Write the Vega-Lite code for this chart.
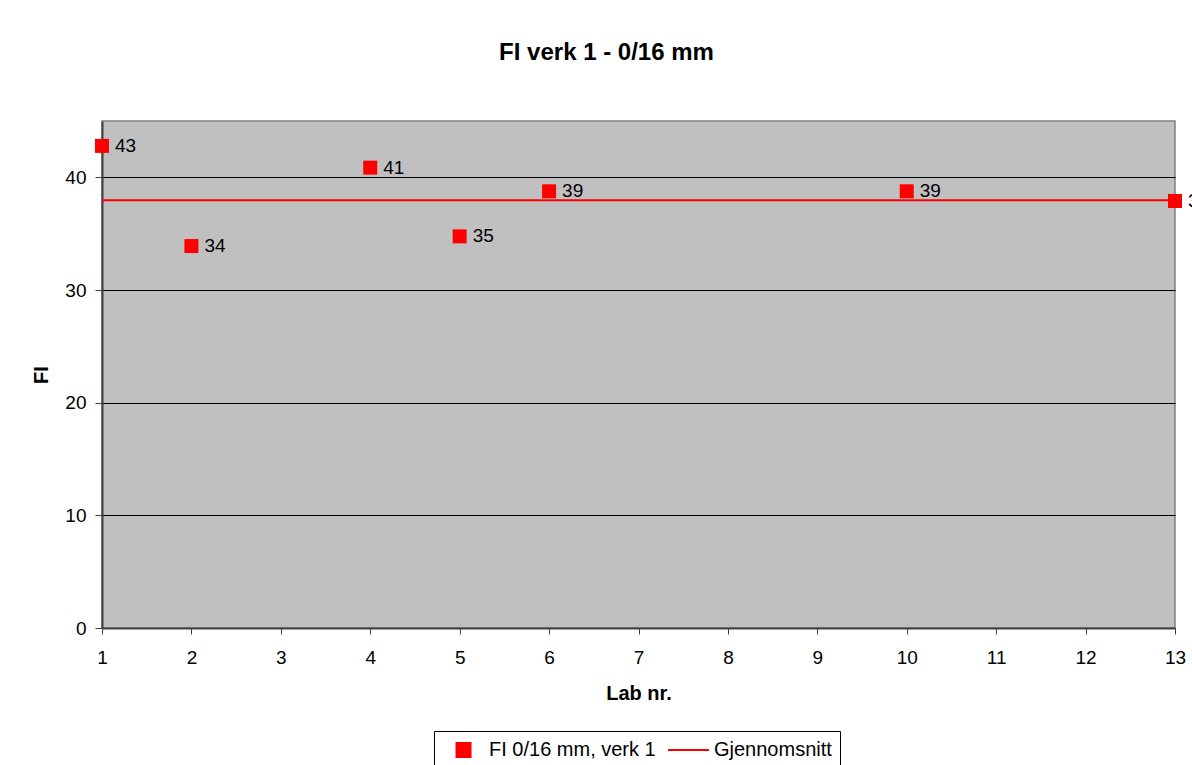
{
  "$schema": "https://vega.github.io/schema/vega-lite/v6.json",
  "width": 1073,
  "height": 507,
  "autosize": {"type": "none"},
  "padding": {"left": 102, "top": 121, "right": 17, "bottom": 137},
  "background": "white",
  "title": {
    "text": "FI verk 1 - 0/16 mm",
    "font": "Liberation Sans",
    "fontSize": 24,
    "fontWeight": "bold",
    "color": "black",
    "anchor": "middle",
    "dx": -32,
    "offset": 56
  },
  "datasets": {
    "pts": [
      {"lab": 1, "fi": 42.79, "label": "43", "series": "FI 0/16 mm, verk 1"},
      {"lab": 2, "fi": 33.9, "label": "34", "series": "FI 0/16 mm, verk 1"},
      {"lab": 4, "fi": 40.86, "label": "41", "series": "FI 0/16 mm, verk 1"},
      {"lab": 5, "fi": 34.76, "label": "35", "series": "FI 0/16 mm, verk 1"},
      {"lab": 6, "fi": 38.76, "label": "39", "series": "FI 0/16 mm, verk 1"},
      {"lab": 10, "fi": 38.76, "label": "39", "series": "FI 0/16 mm, verk 1"},
      {"lab": 13, "fi": 37.9, "label": "38", "series": "FI 0/16 mm, verk 1"}
    ],
    "mean": [
      {"fi": 37.97, "series": "Gjennomsnitt"}
    ]
  },
  "layer": [
    {
      "data": {"name": "mean"},
      "mark": {"type": "rule", "strokeWidth": 2},
      "encoding": {
        "y": {"field": "fi", "type": "quantitative", "scale": {"domain": [0, 45]}},
        "color": {
          "field": "series", "type": "nominal",
          "scale": {"domain": ["FI 0/16 mm, verk 1", "Gjennomsnitt"], "range": ["#ff0000", "#ff0000"]},
          "legend": {
            "orient": "none", "legendX": 332, "legendY": 610, "direction": "horizontal", "columns": 2,
            "title": null, "strokeColor": "black", "fillColor": "white", "padding": 8,
            "labelFont": "Liberation Sans", "labelFontSize": 20, "labelColor": "black", "labelLimit": 400,
            "labelOffset": 4, "columnPadding": 11, "clipHeight": 22, "symbolStrokeWidth": 2,
            "encode": {"symbols": {"update": {"stroke": {"value": "#ff0000"}, "fill": {"value": "#ff0000"}, "strokeWidth": {"value": 2}, "opacity": {"value": 1}}}}
          }
        }
      }
    },
    {
      "data": {"name": "pts"},
      "mark": {"type": "point", "filled": true, "opacity": 1, "strokeWidth": 0},
      "encoding": {
        "x": {
          "field": "lab", "type": "quantitative",
          "scale": {"domain": [1, 13], "nice": false, "zero": false},
          "axis": {"values": [1, 2, 3, 4, 5, 6, 7, 8, 9, 10, 11, 12, 13], "format": "d", "title": "Lab nr.", "grid": false}
        },
        "y": {
          "field": "fi", "type": "quantitative",
          "scale": {"domain": [0, 45], "nice": false},
          "axis": {"values": [0, 10, 20, 30, 40], "format": "d", "title": "FI", "grid": true, "gridColor": "black", "gridWidth": 1, "gridOpacity": 1}
        },
        "color": {
          "field": "series", "type": "nominal",
          "scale": {"domain": ["FI 0/16 mm, verk 1", "Gjennomsnitt"], "range": ["#ff0000", "#ff0000"]},
          "legend": {
            "orient": "none", "legendX": 332, "legendY": 610, "direction": "horizontal", "columns": 2,
            "title": null, "strokeColor": "black", "fillColor": "white", "padding": 8,
            "labelFont": "Liberation Sans", "labelFontSize": 20, "labelColor": "black", "labelLimit": 400,
            "labelOffset": 4, "columnPadding": 11, "clipHeight": 22, "symbolStrokeWidth": 2,
            "encode": {"symbols": {"update": {"stroke": {"value": "#ff0000"}, "fill": {"value": "#ff0000"}, "strokeWidth": {"value": 2}, "opacity": {"value": 1}}}}
          }
        },
        "shape": {
          "field": "series", "type": "nominal",
          "scale": {"domain": ["FI 0/16 mm, verk 1", "Gjennomsnitt"], "range": ["square", "stroke"]},
          "legend": {
            "orient": "none", "legendX": 332, "legendY": 610, "direction": "horizontal", "columns": 2,
            "title": null, "strokeColor": "black", "fillColor": "white", "padding": 8,
            "labelFont": "Liberation Sans", "labelFontSize": 20, "labelColor": "black", "labelLimit": 400,
            "labelOffset": 4, "columnPadding": 11, "clipHeight": 22, "symbolStrokeWidth": 2,
            "encode": {"symbols": {"update": {"stroke": {"value": "#ff0000"}, "fill": {"value": "#ff0000"}, "strokeWidth": {"value": 2}, "opacity": {"value": 1}}}}
          }
        },
        "size": {
          "field": "series", "type": "nominal",
          "scale": {"type": "ordinal", "domain": ["FI 0/16 mm, verk 1", "Gjennomsnitt"], "range": [196, 1681]},
          "legend": {
            "orient": "none", "legendX": 332, "legendY": 610, "direction": "horizontal", "columns": 2,
            "title": null, "strokeColor": "black", "fillColor": "white", "padding": 8,
            "labelFont": "Liberation Sans", "labelFontSize": 20, "labelColor": "black", "labelLimit": 400,
            "labelOffset": 4, "columnPadding": 11, "clipHeight": 22, "symbolStrokeWidth": 2,
            "encode": {"symbols": {"update": {"stroke": {"value": "#ff0000"}, "fill": {"value": "#ff0000"}, "strokeWidth": {"value": 2}, "opacity": {"value": 1}}}}
          }
        }
      }
    },
    {
      "data": {"name": "pts"},
      "mark": {"type": "text", "align": "left", "baseline": "middle", "dx": 13, "font": "Liberation Sans", "fontSize": 19, "color": "black"},
      "encoding": {
        "x": {"field": "lab", "type": "quantitative"},
        "y": {"field": "fi", "type": "quantitative"},
        "text": {"field": "label"}
      }
    }
  ],
  "config": {
    "view": {"fill": "#c0c0c0", "stroke": "#808080", "strokeWidth": 1.5},
    "axis": {
      "labelFont": "Liberation Sans", "labelFontSize": 19, "labelColor": "black",
      "titleFont": "Liberation Sans", "titleFontSize": 20, "titleFontWeight": "bold", "titleColor": "black",
      "domainColor": "#404040", "domainWidth": 2, "tickColor": "#404040", "tickWidth": 1
    },
    "axisX": {"tickSize": 6, "labelPadding": 14, "titlePadding": 16, "labelFlush": false, "labelOverlap": false},
    "axisY": {"tickSize": 7, "labelPadding": 9, "titlePadding": 13, "labelFlush": false}
  }
}
